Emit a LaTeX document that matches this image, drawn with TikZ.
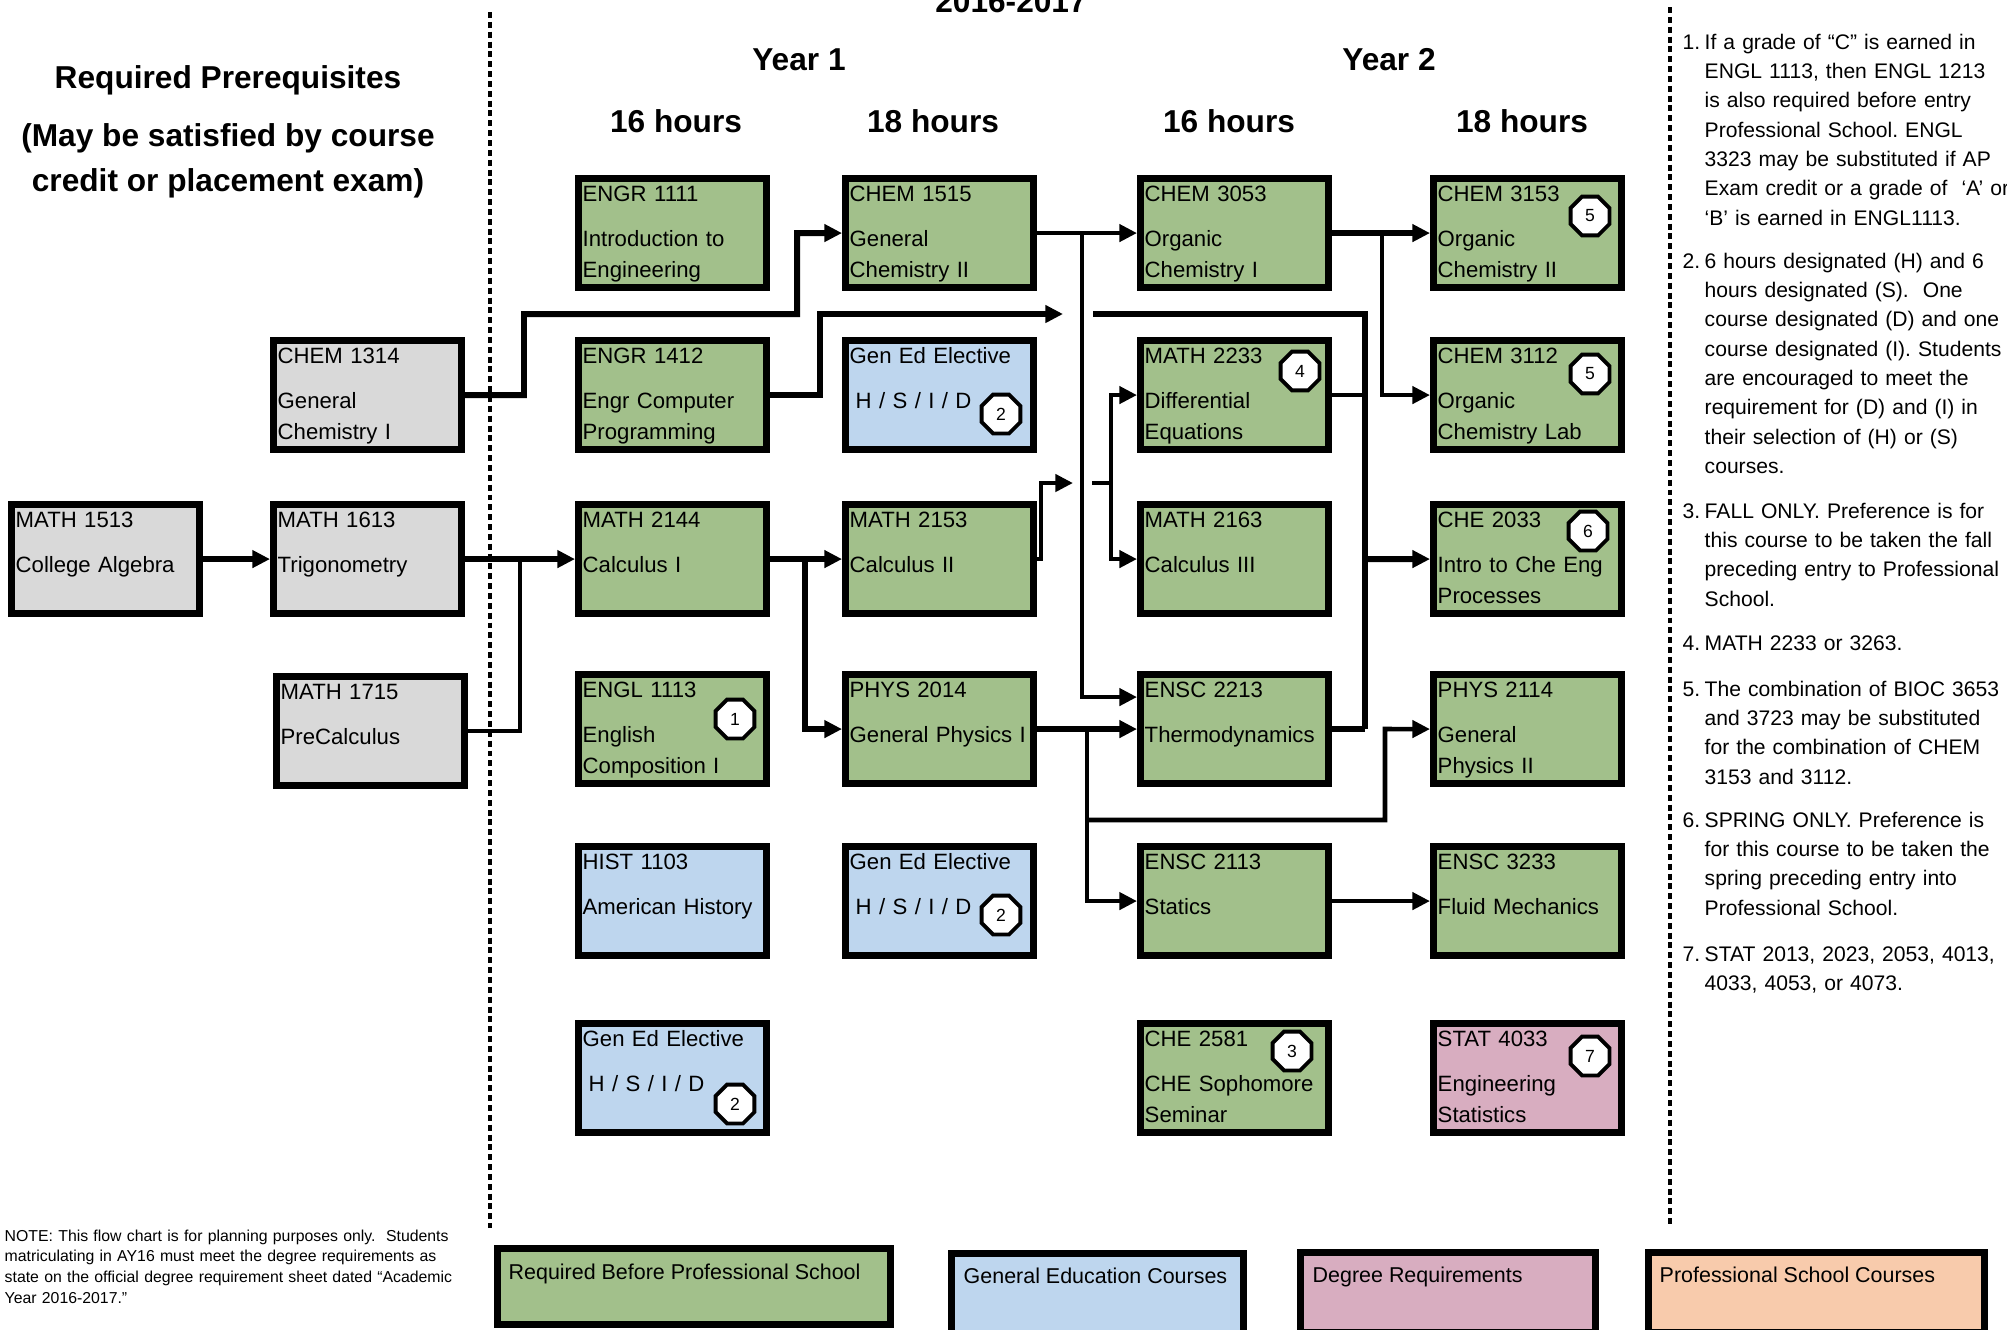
\documentclass[tikz,border=0pt]{standalone}
\usepackage{fontspec}
\setmainfont{Liberation Sans}
\usepackage{xcolor}
\usepackage{tikz}
\usetikzlibrary{shapes.geometric, arrows.meta, positioning, calc}
\definecolor{reqgreen}{RGB}{162, 192, 139}
\definecolor{genblue}{RGB}{190, 214, 238}
\definecolor{prereqgray}{RGB}{217, 217, 217}
\definecolor{degreepink}{RGB}{216, 173, 192}
\definecolor{profpeach}{RGB}{248, 203, 172}
\frenchspacing

\begin{document}
\begin{tikzpicture}[x=0.01cm, y=-0.01cm,
    course/.style={draw, line width=2pt, minimum width=1.88cm, minimum height=1.09cm, inner sep=0pt, anchor=north west},
    coursetext/.style={anchor=base west, inner sep=0pt, text width=1.9cm, align=left, font=\fontsize{6.3}{8.8}\selectfont},
    badge/.style={draw, fill=white, line width=1.1pt, regular polygon, regular polygon sides=8, minimum size=0.42cm, inner sep=0pt, font=\fontsize{5}{6}\selectfont},
    heading/.style={anchor=base, inner sep=0pt, font=\fontsize{9}{11}\selectfont\bfseries},
    notenum/.style={anchor=base west, inner sep=0pt, font=\fontsize{6}{8.35}\selectfont},
    note/.style={anchor=base west, inner sep=0pt, text width=3.3cm, align=left, font=\fontsize{6}{8.35}\selectfont},
    smallnote/.style={anchor=base west, inner sep=0pt, text width=4.8cm, align=left, font=\fontsize{4.5}{5.9}\selectfont},
    legendbox/.style={draw, line width=2pt, inner sep=0pt, anchor=north west},
    legendtext/.style={anchor=base west, inner sep=0pt, font=\fontsize{6.1}{7}\selectfont},
    link/.style={line width=1.7pt},
    thinlink/.style={line width=1.3pt},
    arr/.style={-{Triangle[length=5pt, width=4.8pt]}},
    divider/.style={line width=1.1pt, dash pattern=on 1.7pt off 1.1pt}]
    \useasboundingbox (0,0) rectangle (2007,1329);

    % Dividers
    \draw[divider] (490,12) -- (490,1228);
    \draw[divider] (1670,7) -- (1670,1225);

    % Headings
    \node[heading] (title) at (1011,12) {2016-2017};
    \node[heading] (pre1) at (228,88) {Required Prerequisites};
    \node[heading] (pre2) at (228,146) {(May be satisfied by course};
    \node[heading] (pre3) at (228,191) {credit or placement exam)};
    \node[heading] (yr1) at (799,70) {Year 1};
    \node[heading] (yr2) at (1389,70) {Year 2};
    \node[heading] (hrs1) at (676,132) {16 hours};
    \node[heading] (hrs2) at (933,132) {18 hours};
    \node[heading] (hrs3) at (1229,132) {16 hours};
    \node[heading] (hrs4) at (1522,132) {18 hours};

    % Courses
    \foreach \id/\cx/\cy/\fillc/\txt in {
        m1513/8/501/prereqgray/{MATH 1513\\[4.2pt]College Algebra},
        m1613/270/501/prereqgray/{MATH 1613\\[4.2pt]Trigonometry},
        c1314/270/337/prereqgray/{CHEM 1314\\[4.2pt]General\\Chemistry I},
        m1715/273/673/prereqgray/{MATH 1715\\[4.2pt]PreCalculus},
        e1111/575/175/reqgreen/{ENGR 1111\\[4.2pt]Introduction to\\Engineering},
        e1412/575/337/reqgreen/{ENGR 1412\\[4.2pt]Engr Computer\\Programming},
        m2144/575/501/reqgreen/{MATH 2144\\[4.2pt]Calculus I},
        e1113/575/671/reqgreen/{ENGL 1113\\[4.2pt]English\\Composition I},
        h1103/575/843/genblue/{HIST 1103\\[4.2pt]American History},
        ge1/575/1020/genblue/{Gen Ed Elective\\[4.2pt]\hspace*{1.7pt}H / S / I / D},
        c1515/842/175/reqgreen/{CHEM 1515\\[4.2pt]General\\Chemistry II},
        ge2/842/337/genblue/{Gen Ed Elective\\[4.2pt]\hspace*{1.7pt}H / S / I / D},
        m2153/842/501/reqgreen/{MATH 2153\\[4.2pt]Calculus II},
        p2014/842/671/reqgreen/{PHYS 2014\\[4.2pt]General Physics I},
        ge3/842/843/genblue/{Gen Ed Elective\\[4.2pt]\hspace*{1.7pt}H / S / I / D},
        c3053/1137/175/reqgreen/{CHEM 3053\\[4.2pt]Organic\\Chemistry I},
        m2233/1137/337/reqgreen/{MATH 2233\\[4.2pt]Differential\\Equations},
        m2163/1137/501/reqgreen/{MATH 2163\\[4.2pt]Calculus III},
        s2213/1137/671/reqgreen/{ENSC 2213\\[4.2pt]Thermodynamics},
        s2113/1137/843/reqgreen/{ENSC 2113\\[4.2pt]Statics},
        che2581/1137/1020/reqgreen/{CHE 2581\\[4.2pt]CHE Sophomore\\Seminar},
        c3153/1430/175/reqgreen/{CHEM 3153\\[4.2pt]Organic\\Chemistry II},
        c3112/1430/337/reqgreen/{CHEM 3112\\[4.2pt]Organic\\Chemistry Lab},
        che2033/1430/501/reqgreen/{CHE 2033\\[4.2pt]Intro to Che Eng\\Processes},
        p2114/1430/671/reqgreen/{PHYS 2114\\[4.2pt]General\\Physics II},
        s3233/1430/843/reqgreen/{ENSC 3233\\[4.2pt]Fluid Mechanics},
        st4033/1430/1020/degreepink/{STAT 4033\\[4.2pt]Engineering\\Statistics}} {
        \node[course, fill=\fillc] (\id) at (\cx,\cy) {};
        \node[coursetext] (\id-t) at ($(\id.north west)+(7,26)$) {\txt};
    }

    % Footnote marks
    \foreach \id/\dx/\dy/\num in {e1113/160/48/1, ge2/159/77/2, ge3/159/72/2, ge1/160/84/2,
        m2233/163/34/4, che2581/155/31/3, c3153/160/41/5, c3112/160/37/5,
        che2033/158/30/6, st4033/160/36/7} {
        \node[badge] (\id-b) at ($(\id.north west)+(\dx,\dy)$) {\num};
    }

    % Prerequisite links
    \coordinate (j1715) at (520,559);
    \coordinate (b1314a) at (524,314);
    \coordinate (b1314b) at (797,233);
    \draw[link, arr] (m1513.east) -- (m1513.east -| m1613.west);
    \draw[link, arr] (m1613.east) -- (m1613.east -| m2144.west);
    \draw[thinlink] (m1715.east) -| (j1715);
    \draw[link, arr] (c1314.east) -| (b1314a) -| (b1314b) -- (c1515.west);

    % Year 1 links
    \coordinate (j2144) at (805,559);
    \coordinate (b1412) at (820,314);
    \coordinate (hop1) at (1063,314);
    \coordinate (j1515) at (1082,233);
    \coordinate (b2153) at (1041,483);
    \coordinate (hop2) at (1073,483);
    \coordinate (hop2b) at (1092,483);
    \coordinate (j2153) at (1111,483);
    \coordinate (j2014) at (1087,729);
    \coordinate (j2014b) at (1087,820);
    \coordinate (b2114) at (1385,729);
    \draw[link, arr] (m2144.east) -- (m2153.west);
    \draw[link, arr] (j2144) |- (p2014.west);
    \draw[link, arr] (e1412.east) -| (b1412) -- (hop1);
    \draw[thinlink, arr] (c1515.east) -- (c3053.west);
    \draw[thinlink, arr] (j1515) |- ($(s2213.west)+(0,-32)$);
    \draw[thinlink, arr] (m2153.east) -| (b2153) -- (hop2);
    \draw[thinlink] (hop2b) -- (j2153);
    \draw[thinlink, arr] (j2153) |- (m2233.west);
    \draw[thinlink, arr] (j2153) |- (m2163.west);
    \draw[link, arr] (p2014.east) -- (s2213.west);
    \draw[thinlink, arr] (j2014) |- (s2113.west);
    \draw[thinlink, arr] (j2014b) -| (b2114) -- (p2114.west);

    % Year 2 links
    \coordinate (hop1b) at (1093,314);
    \coordinate (bus) at (1365,559);
    \coordinate (j3053) at (1382,233);
    \draw[link] (hop1b) -| (s2213.east -| bus);
    \draw[thinlink] (m2233.east) -- (m2233.east -| bus);
    \draw[link] (s2213.east) -- (s2213.east -| bus);
    \draw[link, arr] (bus) -- (che2033.west);
    \draw[link, arr] (c3053.east) -- (c3153.west);
    \draw[thinlink, arr] (j3053) |- (c3112.west);
    \draw[thinlink, arr] (s2113.east) -- (s3233.west);

    % Notes
    \node[notenum] (n1) at (1682,49) {1.};
    \node[note] (n1t) at (1704,49) {If a grade of “C” is earned in\\ENGL 1113, then ENGL 1213\\is also required before entry\\Professional School. ENGL\\3323 may be substituted if AP\\Exam credit or a grade of \ ‘A’ or\\‘B’ is earned in ENGL1113.};
    \node[notenum] (n2) at (1682,268) {2.};
    \node[note] (n2t) at (1704,268) {6 hours designated (H) and 6\\hours designated (S).\ \ One\\course designated (D) and one\\course designated (I). Students\\are encouraged to meet the\\requirement for (D) and (I) in\\their selection of (H) or (S)\\courses.};
    \node[notenum] (n3) at (1682,518) {3.};
    \node[note] (n3t) at (1704,518) {FALL ONLY. Preference is for\\this course to be taken the fall\\preceding entry to Professional\\School.};
    \node[notenum] (n4) at (1682,650) {4.};
    \node[note] (n4t) at (1704,650) {MATH 2233 or 3263.};
    \node[notenum] (n5) at (1682,696) {5.};
    \node[note] (n5t) at (1704,696) {The combination of BIOC 3653\\and 3723 may be substituted\\for the combination of CHEM\\3153 and 3112.};
    \node[notenum] (n6) at (1682,827) {6.};
    \node[note] (n6t) at (1704,827) {SPRING ONLY. Preference is\\for this course to be taken the\\spring preceding entry into\\Professional School.};
    \node[notenum] (n7) at (1682,961) {7.};
    \node[note] (n7t) at (1704,961) {STAT 2013, 2023, 2053, 4013,\\4033, 4053, or 4073.};

    \node[smallnote] (disclaimer) at (4,1241) {NOTE: This flow chart is for planning purposes only.\ \ Students\\matriculating in AY16 must meet the degree requirements as\\state on the official degree requirement sheet dated “Academic\\Year 2016-2017.”};

    % Legend
    \node[legendbox, fill=reqgreen, minimum width=3.93cm, minimum height=0.76cm] (kreq) at (494,1245) {};
    \node[legendtext] (kreq-t) at ($(kreq.north west)+(14,34)$) {Required Before Professional School};
    \node[legendbox, fill=genblue, minimum width=2.92cm, minimum height=0.8cm] (kgen) at (948,1250) {};
    \node[legendtext] (kgen-t) at ($(kgen.north west)+(15,33)$) {General Education Courses};
    \node[legendbox, fill=degreepink, minimum width=2.95cm, minimum height=0.8cm] (kdeg) at (1297,1249) {};
    \node[legendtext] (kdeg-t) at ($(kdeg.north west)+(15,33)$) {Degree Requirements};
    \node[legendbox, fill=profpeach, minimum width=3.36cm, minimum height=0.8cm] (kpro) at (1645,1249) {};
    \node[legendtext] (kpro-t) at ($(kpro.north west)+(14,33)$) {Professional School Courses};
\end{tikzpicture}
\end{document}
